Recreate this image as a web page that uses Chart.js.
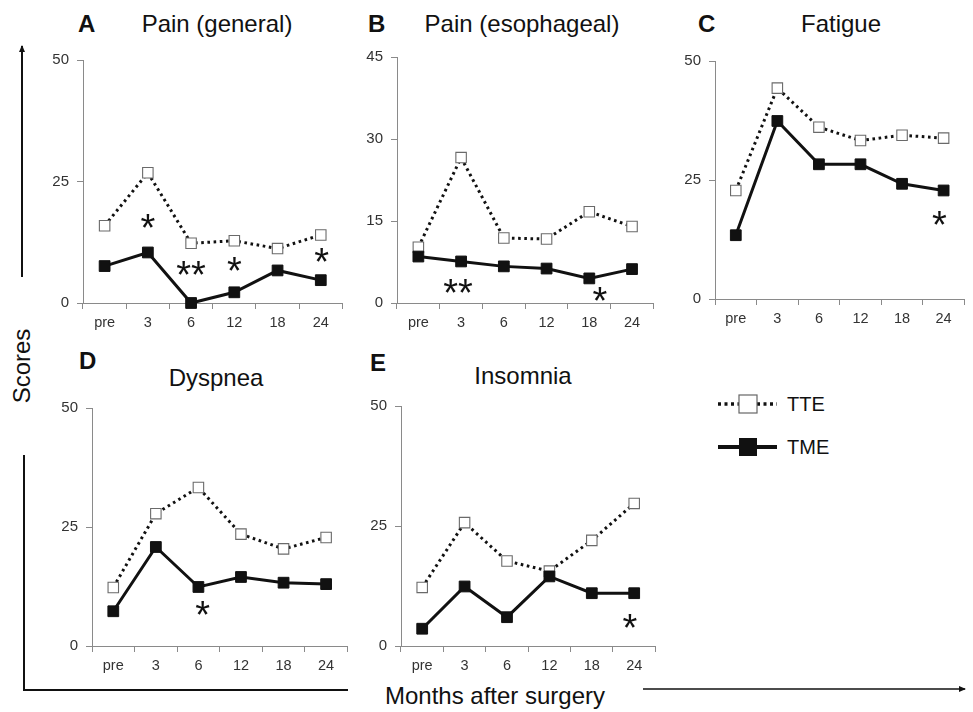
<!DOCTYPE html>
<html>
<head>
<meta charset="utf-8">
<script src="https://cdn.jsdelivr.net/npm/chart.js@4"></script>
<style>
  body { margin: 0; background: #fff; }
  #page { position: relative; width: 973px; height: 712px; overflow: hidden; font-family: 'Liberation Sans', Arial, sans-serif; color: #111; }
  #page canvas { position: absolute; }
  .txt { position: absolute; white-space: nowrap; line-height: 1; font-size: 24px; }
  .letter { font-weight: bold; }
  .ctr { transform: translateX(-50%); }
  .leg { font-size: 20px; }
  svg { position: absolute; left: 0; top: 0; }
</style>
</head>
<body>
<div id="page">
  <svg width="973" height="712">
    <defs>
      <marker id="arr" markerWidth="8" markerHeight="8" refX="6" refY="4" orient="auto" markerUnits="userSpaceOnUse">
        <path d="M0,1 L7,4 L0,7 z" fill="#111"/>
      </marker>
    </defs>
    <!-- y axis arrow (top left) -->
    <line x1="22" y1="277" x2="22" y2="46" stroke="#111" stroke-width="2" marker-end="url(#arr)"/>
    <!-- bottom left bracket -->
    <polyline points="24,455 24,690 348,690" fill="none" stroke="#111" stroke-width="2"/>
    <!-- x axis arrow (bottom right) -->
    <line x1="643" y1="689" x2="965" y2="689" stroke="#111" stroke-width="1.5" marker-end="url(#arr)"/>
    <!-- legend -->
    <line x1="718" y1="404" x2="777" y2="404" stroke="#111" stroke-width="3.5" stroke-dasharray="3 3.5"/>
    <rect x="739" y="395" width="18" height="18" fill="#fff" stroke="#666" stroke-width="1.2"/>
    <line x1="718" y1="447" x2="777" y2="447" stroke="#111" stroke-width="4"/>
    <rect x="739" y="438" width="18" height="18" fill="#111"/>
  </svg>

  <div class="txt letter" style="left:78px; top:12px">A</div>
  <div class="txt ctr" style="left:217px; top:12px">Pain (general)</div>
  <div class="txt letter" style="left:368px; top:12px">B</div>
  <div class="txt ctr" style="left:522px; top:12px">Pain (esophageal)</div>
  <div class="txt letter" style="left:698px; top:12px">C</div>
  <div class="txt ctr" style="left:841px; top:12px">Fatigue</div>
  <div class="txt letter" style="left:79px; top:349px">D</div>
  <div class="txt ctr" style="left:216px; top:366px">Dyspnea</div>
  <div class="txt letter" style="left:370px; top:351px">E</div>
  <div class="txt ctr" style="left:523px; top:364px">Insomnia</div>

  <div class="txt" style="left:22px; top:366px; transform: translate(-50%,-50%) rotate(-90deg)">Scores</div>
  <div class="txt ctr" style="left:495px; top:684px">Months after surgery</div>

  <div class="txt leg" style="left:787px; top:394px">TTE</div>
  <div class="txt leg" style="left:787px; top:437px">TME</div>
</div>

<script>
// x categories
const months = ['pre', '3', '6', '12', '18', '24'];

// A - Pain (general)
const tteA = [15.9, 26.8, 12.3, 12.8, 11.2, 14.0];
const tmeA = [7.6, 10.4, 0, 2.2, 6.7, 4.7];
// B - Pain (esophageal)
const tteB = [10.2, 26.6, 11.9, 11.7, 16.7, 14.0];
const tmeB = [8.5, 7.6, 6.7, 6.3, 4.5, 6.2];
// C - Fatigue
const tteC = [22.8, 44.3, 36.1, 33.3, 34.4, 33.8];
const tmeC = [13.4, 37.4, 28.3, 28.3, 24.2, 22.8];
// D - Dyspnea
const tteD = [12.3, 27.8, 33.3, 23.5, 20.4, 22.8];
const tmeD = [7.3, 20.8, 12.4, 14.5, 13.3, 13.0];
// E - Insomnia
const tteE = [12.2, 25.7, 17.7, 15.6, 22.0, 29.7];
const tmeE = [3.6, 12.4, 6.0, 14.5, 11.0, 11.0];

// significance marks: [category position, score, text]
const starsA = [[1, 16.5, '*'], [2, 6.9, '**'], [3, 7.7, '*'], [5.02, 9.6, '*']];
const starsB = [[0.93, 2.9, '**'], [4.25, 1.4, '*']];
const starsC = [[4.9, 16.8, '*']];
const starsD = [[2.1, 7.7, '*']];
const starsE = [[4.9, 4.9, '*']];

// y axis ranges
const yMaxes = [50, 45, 50, 50, 50];
const ySteps = [25, 15, 25, 25, 25];

// chart area boxes on the page (left, top, right, bottom)
const boxes = [
  [83, 57, 343, 303],
  [397, 54, 654, 303],
  [715, 58, 972, 299],
  [92, 405, 348, 646],
  [401, 403, 656, 646]
];

const panels = [
  { tte: tteA, tme: tmeA, stars: starsA },
  { tte: tteB, tme: tmeB, stars: starsB },
  { tte: tteC, tme: tmeC, stars: starsC },
  { tte: tteD, tme: tmeD, stars: starsD },
  { tte: tteE, tme: tmeE, stars: starsE }
];

const FONT = "'Liberation Sans', Arial, sans-serif";
const AXIS = '#8a8a8a';
const Y_W = 60, X_H = 32, PAD_T = 14;

const starPlugin = {
  id: 'stars',
  afterDatasetsDraw(chart, args, opts) {
    const ctx = chart.ctx;
    const x = chart.scales.x, y = chart.scales.y;
    const size = 38;
    ctx.save();
    ctx.fillStyle = '#111';
    ctx.font = size + 'px ' + FONT;
    ctx.textAlign = 'center';
    ctx.textBaseline = 'alphabetic';
    (opts.items || []).forEach(s => {
      const px = x.getPixelForValue(s[0]);
      const py = y.getPixelForValue(s[1]);
      ctx.fillText(s[2], px, py + size * 0.49);
    });
    ctx.restore();
  }
};

const page = document.getElementById('page');

panels.forEach((p, i) => {
  const [L, T, R, B] = boxes[i];
  const padR = Math.min(8, 973 - R);
  const canvas = document.createElement('canvas');
  canvas.width = (R - L) + Y_W + padR;
  canvas.height = (B - T) + PAD_T + X_H;
  canvas.style.left = (L - Y_W) + 'px';
  canvas.style.top = (T - PAD_T) + 'px';
  page.appendChild(canvas);

  new Chart(canvas, {
    type: 'line',
    data: {
      labels: months,
      datasets: [
        {
          label: 'TME',
          data: p.tme,
          borderColor: '#111',
          borderWidth: 3,
          pointStyle: 'rect',
          pointRadius: 7.6,
          pointBackgroundColor: '#111',
          pointBorderColor: '#111',
          pointBorderWidth: 1,
          tension: 0,
          clip: false
        },
        {
          label: 'TTE',
          data: p.tte,
          borderColor: '#111',
          borderWidth: 3,
          borderDash: [2.6, 3.6],
          borderCapStyle: 'butt',
          pointStyle: 'rect',
          pointRadius: 7.4,
          pointBackgroundColor: '#fff',
          pointBorderColor: '#6a6a6a',
          pointBorderWidth: 1.1,
          tension: 0,
          clip: false
        }
      ]
    },
    options: {
      responsive: false,
      animation: false,
      devicePixelRatio: 1,
      layout: { padding: { top: PAD_T, right: padR, left: 0, bottom: 0 } },
      plugins: {
        legend: { display: false },
        tooltip: { enabled: false },
        stars: { items: p.stars }
      },
      scales: {
        x: {
          offset: true,
          grid: { offset: true, drawOnChartArea: false, drawTicks: true, tickLength: 6, color: AXIS },
          border: { color: AXIS, width: 1 },
          ticks: { color: '#333', font: { family: FONT, size: 14.5 }, padding: 5, maxRotation: 0, autoSkip: false },
          afterFit: s => { s.height = X_H; }
        },
        y: {
          min: 0,
          max: yMaxes[i],
          grid: { drawOnChartArea: false, drawTicks: true, tickLength: 6, color: AXIS },
          border: { color: AXIS, width: 1 },
          ticks: { stepSize: ySteps[i], color: '#333', font: { family: FONT, size: 15 }, padding: 8 },
          afterFit: s => { s.width = Y_W; }
        }
      }
    },
    plugins: [starPlugin]
  });
});
</script>
</body>
</html>
